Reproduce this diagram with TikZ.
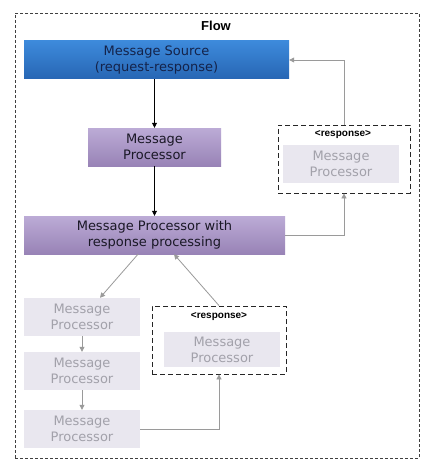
\documentclass[tikz,border=0pt]{standalone}
\usepackage{fontspec}
\setmainfont{DejaVu Sans}
\newfontfamily\lblfont{Liberation Sans}
\usetikzlibrary{arrows.meta,calc,shadows}
\definecolor{srctop}{HTML}{3D8ADB}
\definecolor{srcbot}{HTML}{2766B4}
\definecolor{srctxt}{HTML}{14234A}
\definecolor{mptop}{HTML}{BCABD6}
\definecolor{mpbot}{HTML}{9883B6}
\definecolor{mptxt}{HTML}{1A1826}
\definecolor{ghostfill}{HTML}{E9E7EF}
\definecolor{ghosttxt}{HTML}{A2A1AA}
\definecolor{conn}{HTML}{9A9A9A}
\tikzset{
  x=1pt, y=-1pt,
  boxtext/.style={font=\fontsize{13}{16}\selectfont, align=center, inner sep=0pt},
  srcbox/.style={boxtext, top color=srctop, bottom color=srcbot, draw=none, text=srctxt,
    minimum width=265pt, minimum height=38pt},
  mpbox/.style={boxtext, top color=mptop, bottom color=mpbot, draw=none, text=mptxt,
    minimum height=38pt},
  ghostbox/.style={boxtext, fill=ghostfill, draw=none, text=ghosttxt,
    minimum width=116pt, minimum height=38pt},
  respbox/.style={draw=black!85, dash pattern=on 5pt off 3pt, line width=0.8pt,
    fill=white, minimum width=132pt, minimum height=68pt, inner sep=0pt},
  resplabel/.style={font=\lblfont\bfseries\fontsize{10}{12}\selectfont, inner sep=0pt},
  blackarrow/.style={draw=black, line width=0.8pt, -{Triangle[width=5pt,length=5pt]}},
  grayarrow/.style={draw=conn, line width=0.8pt, -{Triangle[width=5pt,length=5pt]}},
}
\begin{document}
\begin{tikzpicture}
\useasboundingbox (0,0) rectangle (432,476);
\fill[white] (0,0) rectangle (432,476);
% outer flow frame
\node[draw=black!75, dash pattern=on 3pt off 2pt, line width=0.6pt,
  minimum width=404pt, minimum height=445pt, inner sep=0pt] (flow) at (217,235.5) {};
\node[font=\lblfont\bfseries\fontsize{13}{15}\selectfont, inner sep=0pt] (flowlbl) at (216,26) {Flow};

% main column
\node[srcbox] (src) at (156.5,60) {Message Source\\(request-response)};
\node[mpbox, minimum width=133pt] (mp1) at (154.5,147) {Message\\Processor};
\node[mpbox, minimum width=261pt] (mp2) at (154.5,235) {Message Processor with\\response processing};

% top response box
\node[respbox] (resp1) at (344,159) {};
\node[resplabel] (rl1) at (343,135) {<response>};
\node[ghostbox] (mp6) at (341,164) {Message\\Processor};

% bottom left column
\node[ghostbox] (mp3) at (82,317) {Message\\Processor};
\node[ghostbox] (mp4) at (82,371) {Message\\Processor};
\node[ghostbox] (mp5) at (82,429) {Message\\Processor};

% bottom response box
\node[respbox, minimum width=134pt] (resp2) at (219,340) {};
\node[resplabel] (rl2) at (219,317) {<response>};
\node[ghostbox, minimum height=35pt] (mp7) at (222,349.5) {Message\\Processor};

% connectors
\draw[blackarrow] (mp1.north |- src.south) -- (mp1.north);
\draw[blackarrow] (mp1.south) -- (mp2.north);
\draw[grayarrow] (mp2.east) -| (resp1.south);
\draw[grayarrow] (resp1.north) |- (src.east);
\draw[grayarrow] ([xshift=-16.5pt]mp2.south) -- ([xshift=18pt]mp3.north);
\draw[grayarrow] (mp3.south) -- (mp4.north);
\draw[grayarrow] (mp4.south) -- (mp5.north);
\draw[grayarrow] (mp5.east) -| (resp2.south);
\draw[grayarrow] (resp2.north) -- ([xshift=19.5pt]mp2.south);
\end{tikzpicture}
\end{document}
